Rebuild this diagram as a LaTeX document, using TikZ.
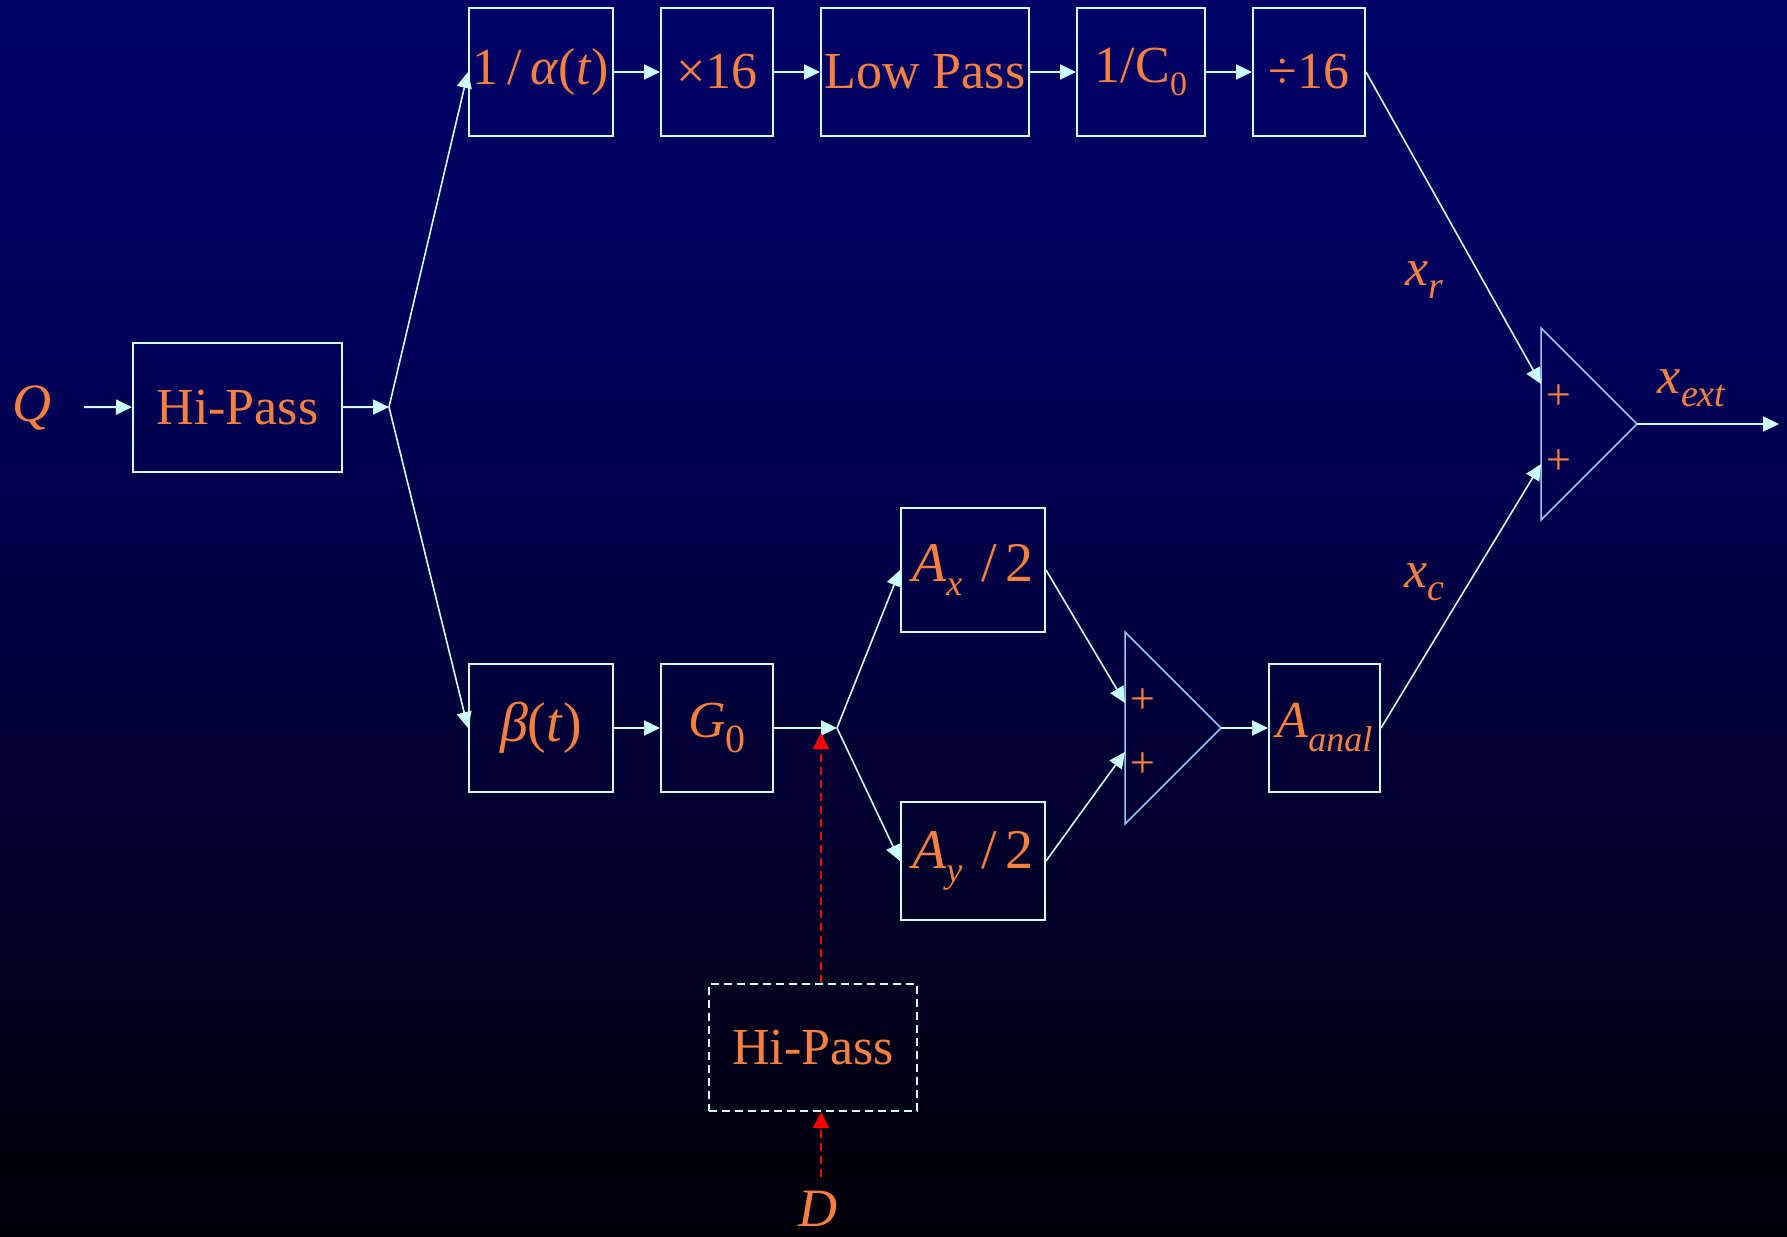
\documentclass[tikz,border=0pt]{standalone}
\usepackage{fontspec}
\setmainfont{Liberation Serif}
\usetikzlibrary{arrows.meta}
\definecolor{bgtop}{RGB}{0,0,102}
\definecolor{bgmid}{RGB}{0,0,90}
\definecolor{bgbot}{RGB}{0,0,8}
\definecolor{linec}{RGB}{204,255,255}
\definecolor{sumc}{RGB}{150,200,255}
\definecolor{txt}{RGB}{245,128,64}
\definecolor{redc}{RGB}{255,0,0}
\newcommand\fs[1]{\fontsize{#1}{#1}\selectfont}
\newcommand\subx[3]{\raisebox{-#2pt}{\fs{#1}#3}}
\begin{document}
\begin{tikzpicture}[x=1pt,y=-1pt,
 box/.style={draw=linec,line width=2pt,inner sep=0pt,text=txt,font=\fs{52}},
 dbox/.style={box,dash pattern=on 8pt off 5pt},
 arr/.style={draw=linec,line width=2pt,-{Triangle[length=16pt,width=15pt]}},
 darr/.style={draw=linec,line width=1.6pt,-{Triangle[length=16pt,width=15pt]}},
 redarr/.style={draw=redc,line width=1.6pt,dash pattern=on 8pt off 5pt,-{Triangle[length=16pt,width=16pt]}},
 lbl/.style={text=txt,inner sep=0pt,font=\fs{52}},
 plus/.style={text=txt,inner sep=0pt,font=\fs{44}},
 sum/.style={draw=sumc,line width=1.5pt},
]
\useasboundingbox (0,0) rectangle (1787,1236);
\fill[top color=bgtop,bottom color=bgmid,draw=none] (0,0) rectangle (1787,351);
\fill[top color=bgmid,bottom color=bgbot,draw=none] (0,350) rectangle (1787,1236);

% top row
\node[box,minimum width=144pt,minimum height=128pt] (a1) at (541,72) {1\,/\,\textit{α}(\textit{t})};
\node[box,minimum width=112pt,minimum height=128pt] (a2) at (717,72) {×16};
\node[box,minimum width=208pt,minimum height=128pt] (a3) at (925,72) {Low Pass};
\node[box,minimum width=128pt,minimum height=128pt] (a4) at (1141,72) {1/C\subx{34}{13}{0}};
\node[box,minimum width=112pt,minimum height=128pt] (a5) at (1309,72) {÷16};

% input
\node[lbl,font=\fs{54}\itshape] (Q) at (32,408) {Q};
\coordinate (qout) at (84,407);
\node[box,minimum width=209pt,minimum height=129pt] (hp1) at (237.5,407.5) {Hi-Pass};
\coordinate (br1) at (389,407);

% lower row
\node[box,minimum width=144pt,minimum height=128pt,font=\fs{56}] (beta) at (541,728) {\textit{β}(\textit{t})};
\node[box,minimum width=112pt,minimum height=128pt] (g0) at (717,728) {\textit{G}\subx{40}{15}{0}};
\coordinate (br2) at (837,728);
\node[box,minimum width=144pt,minimum height=124pt,font=\fs{56}] (ax) at (973,570) {\textit{A}\subx{36}{14}{\textit{x}}\,\,/\,2};
\node[box,minimum width=144pt,minimum height=118pt,font=\fs{56}] (ay) at (973,861) {\textit{A}\subx{36}{14}{\textit{y}}\,\,/\,2};
\node[box,minimum width=111pt,minimum height=128pt] (aan) at (1324.5,728) {\textit{A}\subx{36}{14}{\textit{anal}}};

% summer 2
\draw[sum] (1125,632) -- (1221,728) -- (1125,824) -- cycle;
\coordinate (s2a) at (1221,728);
\coordinate (s2i1) at (1125,703);
\coordinate (s2i2) at (1125,752);
\node[plus] (p21) at (1143,701) {+};
\node[plus] (p22) at (1143,765) {+};

% summer 1
\draw[sum] (1541,328) -- (1637,424) -- (1541,520) -- cycle;
\coordinate (s1a) at (1637,424);
\coordinate (s1i1) at (1541,384);
\coordinate (s1i2) at (1541,464);
\node[plus] (p11) at (1559,397) {+};
\node[plus] (p12) at (1559,462) {+};
\coordinate (out) at (1779,424);

% labels
\node[lbl] (xr) at (1424,280) {\textit{x}\subx{38}{13}{\textit{r}}};
\node[lbl] (xc) at (1424,582) {\textit{x}\subx{38}{13}{\textit{c}}};
\node[lbl] (xext) at (1692,388) {\textit{x}\subx{38}{13}{\textit{ext}}};

% lower hi-pass
\node[dbox,minimum width=208pt,minimum height=127pt] (hp2) at (813,1047.5) {Hi-Pass};
\node[lbl,font=\fs{54}\itshape] (D) at (818,1209) {D};
\coordinate (rt) at (821,733);
\coordinate (dt) at (821,1177);

% connectors
\draw[arr] (qout) -- (hp1);
\draw[arr] (hp1) -- (br1);
\draw[darr] (br1) -- (a1.west);
\draw[darr] (br1) -- (beta.west);
\draw[arr] (a1) -- (a2);
\draw[arr] (a2) -- (a3);
\draw[arr] (a3) -- (a4);
\draw[arr] (a4) -- (a5);
\draw[darr] (a5.east) -- (s1i1);
\draw[arr] (beta) -- (g0);
\draw[arr] (g0) -- (br2);
\draw[darr] (br2) -- (ax.west);
\draw[darr] (br2) -- (ay.west);
\draw[darr] (ax.east) -- (s2i1);
\draw[darr] (ay.east) -- (s2i2);
\draw[arr] (s2a) -- (aan);
\draw[darr] (aan.east) -- (s1i2);
\draw[arr] (s1a) -- (out);
\draw[redarr] (hp2.north -| rt) -- (rt);
\draw[redarr] (dt) -- (hp2.south -| dt);
\end{tikzpicture}
\end{document}
